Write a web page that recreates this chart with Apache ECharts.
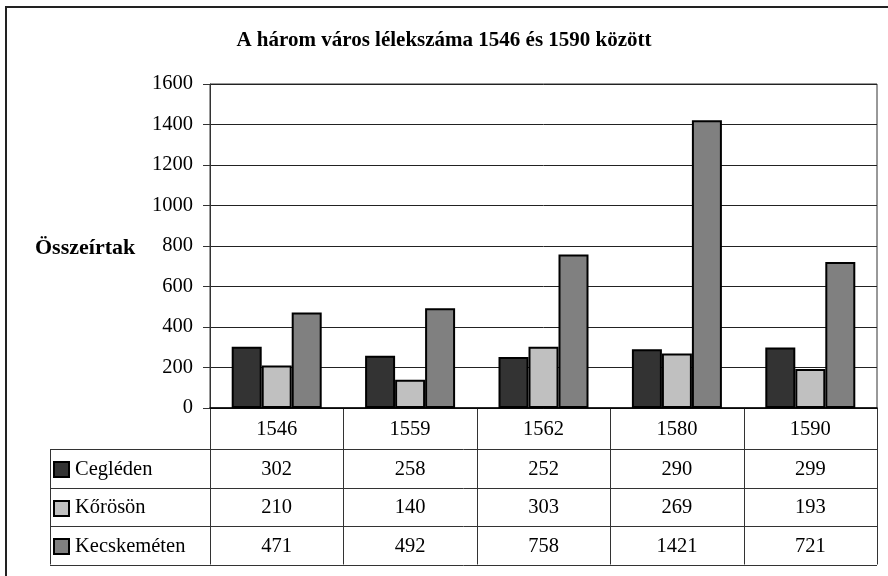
<!DOCTYPE html>
<html>
<head>
<meta charset="utf-8">
<script src="https://cdn.jsdelivr.net/npm/echarts@6/dist/echarts.min.js"></script>
<style>
html,body{margin:0;padding:0;background:#fff;}
#c{width:888px;height:576px;}
</style>
</head>
<body>
<div id="c"></div>
<script>
const titleText = 'A három város lélekszáma 1546 és 1590 között';
const yAxisTitle = 'Összeírtak';
const years = ['1546', '1559', '1562', '1580', '1590'];
const seriesNames = ['Cegléden', 'Kőrösön', 'Kecskeméten'];
const cegleden = [302, 258, 252, 290, 299];
const korosson = [210, 140, 303, 269, 193];
const kecskemeten = [471, 492, 758, 1421, 721];
const yMin = 0, yMax = 1600, yStep = 200;

const seriesValues = [cegleden, korosson, kecskemeten];
const colors = ['#333333', '#c0c0c0', '#808080'];
const FONT = '"Liberation Serif", "Times New Roman", serif';
const NUM_SIZE = 20.5;

const chart = echarts.init(document.getElementById('c'), null, {renderer: 'canvas'});

const option = {
  animation: false,
  backgroundColor: '#fff',
  title: {
    text: titleText,
    left: 'center',
    top: 25,
    textStyle: {fontFamily: FONT, fontSize: 21, fontWeight: 'bold', color: '#000'}
  },
  grid: {left: 210, right: 11, top: 84, bottom: 168, show: true, borderColor: '#333', borderWidth: 1},
  xAxis: {
    type: 'category',
    data: years,
    axisLine: {show: true, lineStyle: {color: '#000', width: 1.5}},
    axisTick: {show: false},
    axisLabel: {show: false},
    splitLine: {show: false}
  },
  yAxis: {
    type: 'value',
    min: yMin, max: yMax, interval: yStep,
    axisLine: {show: true, lineStyle: {color: '#333', width: 1}},
    axisTick: {show: true, length: 7, lineStyle: {color: '#333'}},
    axisLabel: {margin: 17, fontFamily: FONT, fontSize: NUM_SIZE, color: '#000', formatter: v => String(v)},
    splitLine: {show: true, lineStyle: {color: '#222', width: 1}}
  },
  series: seriesNames.map((name, i) => ({
    name: name,
    type: 'bar',
    data: seriesValues[i],
    barWidth: 30,
    barGap: '0%',
    itemStyle: {color: colors[i], borderColor: '#000', borderWidth: 2}
  }))
};
chart.setOption(option);

// Build the data table under the chart from the arrays, positioned via the axes
const c0 = chart.convertToPixel({xAxisIndex: 0}, 0);
const c1 = chart.convertToPixel({xAxisIndex: 0}, 1);
const step = c1 - c0;
const yZero = chart.convertToPixel({yAxisIndex: 0}, 0);
const leftEdge = c0 - step / 2;
const rightEdge = leftEdge + step * years.length;
const headerH = 41;
const rowH = 38.5;
const legendLeft = 50;
const tableBottom = yZero + headerH + rowH * seriesNames.length;
const lineStyle = {stroke: '#333', lineWidth: 1};
const textStyleBase = {fontFamily: FONT, fontSize: NUM_SIZE, fill: '#000'};

const g = [];
// outer frame
g.push({type: 'rect', shape: {x: 6, y: 7, width: 1000, height: 1000}, style: {fill: 'none', stroke: '#222', lineWidth: 2}, silent: true});
// vertical lines
for (let i = 0; i <= years.length; i++) {
  const x = Math.round(leftEdge + step * i) + 0.5;
  g.push({type: 'line', shape: {x1: x, y1: yZero, x2: x, y2: tableBottom}, style: lineStyle, silent: true});
}
// legend column left line
g.push({type: 'line', shape: {x1: legendLeft + 0.5, y1: yZero + headerH, x2: legendLeft + 0.5, y2: tableBottom}, style: lineStyle, silent: true});
// horizontal lines
for (let r = 0; r <= seriesNames.length; r++) {
  const y = Math.round(yZero + headerH + rowH * r) + 0.5;
  g.push({type: 'line', shape: {x1: legendLeft, y1: y, x2: rightEdge, y2: y}, style: lineStyle, silent: true});
}
// header (years)
years.forEach((yr, i) => {
  g.push({type: 'text', x: c0 + step * i, y: yZero + headerH / 2 + 1,
    style: Object.assign({text: yr, align: 'center', verticalAlign: 'middle'}, textStyleBase), silent: true});
});
// rows
seriesNames.forEach((name, r) => {
  const cy = yZero + headerH + rowH * r + rowH / 2 + 1;
  g.push({type: 'rect', shape: {x: 54, y: Math.round(cy - 7), width: 15, height: 15},
    style: {fill: colors[r], stroke: '#000', lineWidth: 2}, silent: true});
  g.push({type: 'text', x: 75, y: cy,
    style: Object.assign({text: name, align: 'left', verticalAlign: 'middle'}, textStyleBase), silent: true});
  seriesValues[r].forEach((v, i) => {
    g.push({type: 'text', x: c0 + step * i, y: cy,
      style: Object.assign({text: String(v), align: 'center', verticalAlign: 'middle'}, textStyleBase), silent: true});
  });
});
// y axis title
g.push({type: 'text', x: 35, y: (chart.convertToPixel({yAxisIndex: 0}, yMax) + yZero) / 2 + 2,
  style: {text: yAxisTitle, fontFamily: FONT, fontSize: 22, fontWeight: 'bold', fill: '#000', align: 'left', verticalAlign: 'middle'}, silent: true});

chart.setOption({graphic: g});
</script>
</body>
</html>
